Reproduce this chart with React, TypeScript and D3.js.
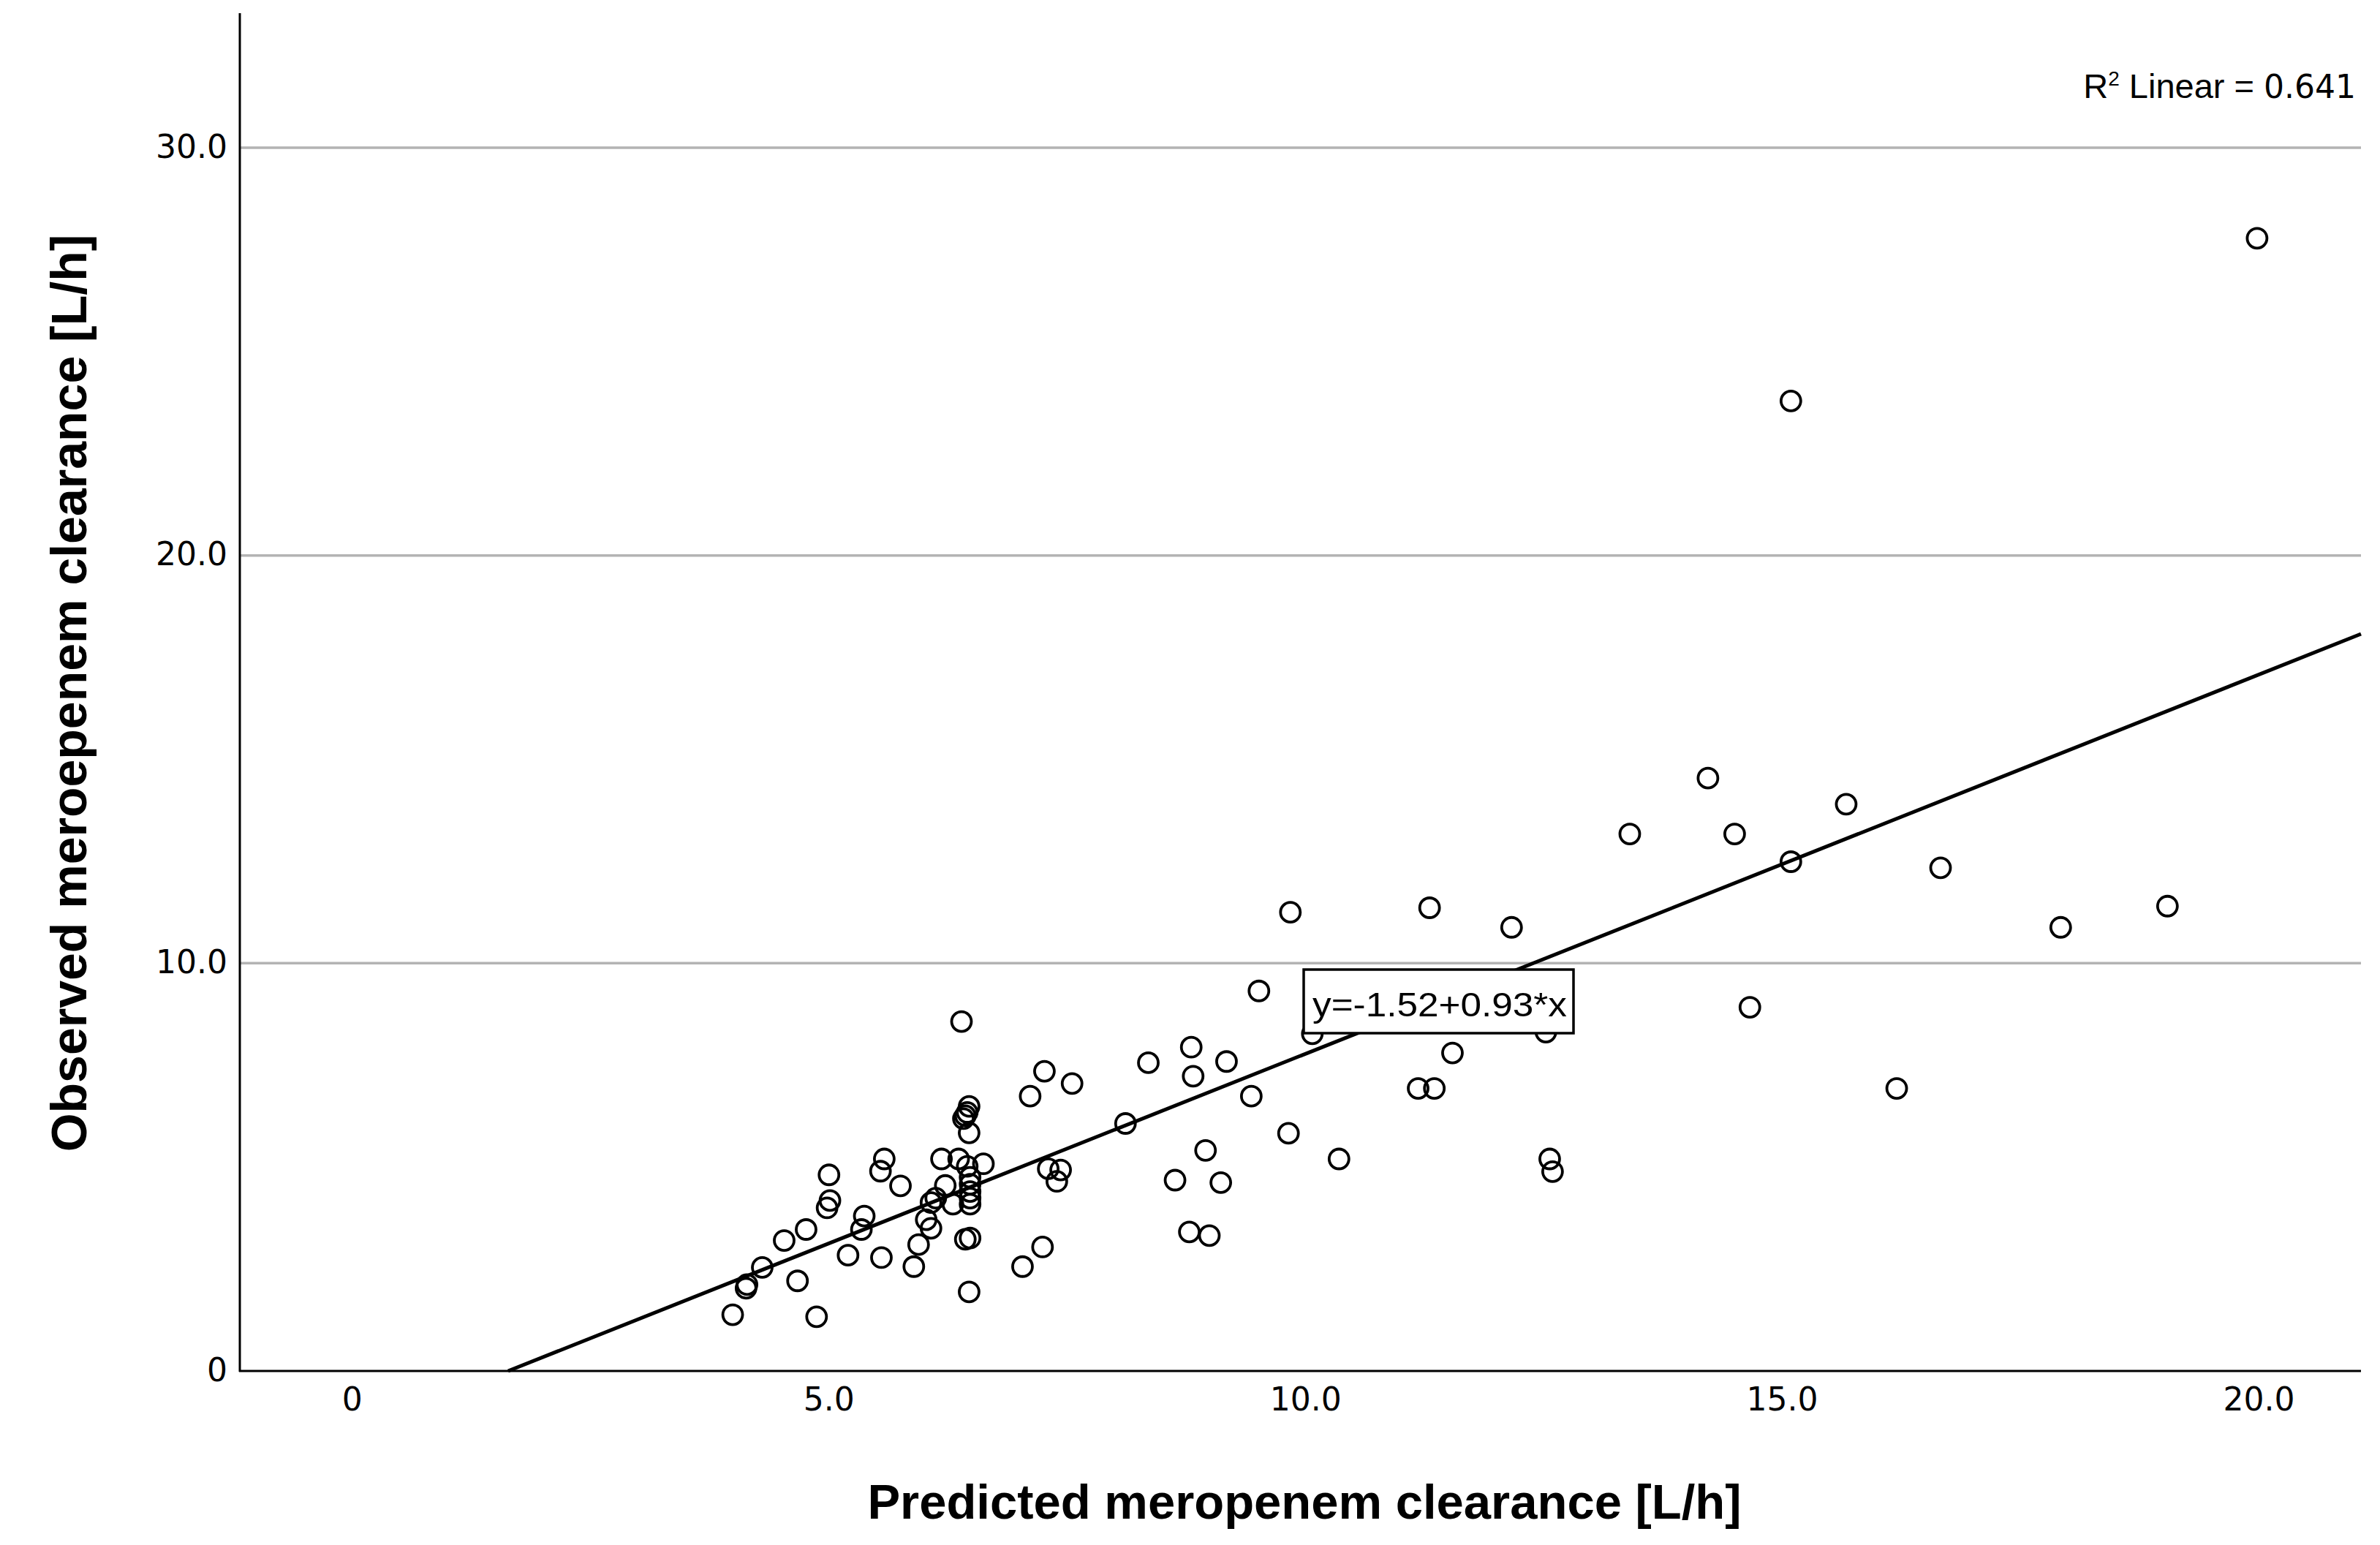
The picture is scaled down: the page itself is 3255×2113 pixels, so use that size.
import React from "react";
import * as d3 from "d3";

// ---- data ----
const predicted = [
  3.99, 4.13, 4.14, 4.30, 4.53, 4.67, 4.76, 4.87, 5.00, 5.01, 4.98, 5.20, 5.34, 5.37, 5.55, 5.58, 5.54, 5.75,
  5.89, 5.94, 6.02, 6.07, 6.07, 6.12, 6.18, 6.22, 6.30, 6.36, 6.45, 6.62, 6.48, 6.48, 6.48, 6.48, 6.48, 6.43,
  6.48, 6.47, 6.39, 6.47, 6.45, 6.43, 6.41, 6.47, 7.03, 7.24, 7.11, 7.26, 7.55, 7.30, 7.43, 7.39, 8.11,
  8.35, 8.80, 8.82, 9.17, 9.43, 9.51, 10.07, 8.63, 9.11, 8.95, 9.82, 10.35, 8.78, 8.99, 9.84, 11.30, 12.16,
  11.54, 11.18, 11.35, 12.52, 12.56, 12.59,
  13.40, 14.22, 14.50, 15.67, 15.09, 14.66, 16.66, 16.20, 17.92, 19.04, 15.09, 19.98,
];
const observed = [
  1.38, 2.03, 2.12, 2.54, 3.20, 2.21, 3.47, 1.33, 4.81, 4.18, 4.00, 2.84, 3.47, 3.80, 2.78, 5.20, 4.90, 4.54,
  2.56, 3.10, 3.71, 3.50, 4.13, 4.24, 5.20, 4.55, 4.09, 5.20, 5.02, 5.08, 4.75, 4.58, 4.40, 4.24, 4.09, 3.23,
  3.26, 1.94, 8.57, 6.49, 6.34, 6.26, 6.19, 5.84, 2.56, 3.04, 6.74, 7.35, 7.05, 4.96, 4.93, 4.65, 6.07,
  7.56, 7.94, 7.23, 7.59, 6.74, 9.32, 8.27, 4.68, 4.62, 5.41, 5.83, 5.20, 3.41, 3.32, 11.25, 11.36, 10.88,
  7.80, 6.93, 6.93, 8.31, 5.20, 4.89,
  13.17, 14.54, 13.17, 13.90, 12.49, 8.92, 12.34, 6.93, 10.88, 11.40, 23.79, 27.78,
];
const xTicks = [0, 5, 10, 15, 20];
const xTickLabels = ["0", "5.0", "10.0", "15.0", "20.0"];
const yTicks = [0, 10, 20, 30];
const yTickLabels = ["0", "10.0", "20.0", "30.0"];
const fitIntercept = -1.52;
const fitSlope = 0.93;
const rSquared = 0.641;

const W = 3255;
const H = 2113;
const X0 = 328, X1 = 3229, Y0 = 1875, Y1 = 18;

export default function App() {
  const x = d3.scaleLinear().domain([-1.18, 21.07]).range([X0, X1]);
  const y = d3.scaleLinear().domain([0, 33.3]).range([Y0, Y1]);

  const xStart = -fitIntercept / fitSlope;
  const xEnd = x.domain()[1];
  const fitLine = d3.line<number>()
    .x((v) => x(v))
    .y((v) => y(fitIntercept + fitSlope * v))([xStart, xEnd]);

  const pts = predicted.map((p, i) => [p, observed[i]] as [number, number]);

  const eqText = `y=${fitIntercept.toFixed(2)}+${fitSlope.toFixed(2)}*x`;
  const box = { x: 1783, y: 1326, w: 369, h: 87 };

  const tickFont = "'DejaVu Sans', Verdana, sans-serif";
  const arial = "'Liberation Sans', Arial, sans-serif";

  return (
    <svg
      width={W}
      height={H}
      viewBox={`0 0 ${W} ${H}`}
      style={{ position: "absolute", left: 0, top: 0, display: "block", background: "#fff" }}
    >
      <rect x={0} y={0} width={W} height={H} fill="#fff" />
      {/* gridlines */}
      {yTicks.filter((t) => t > 0).map((t) => (
        <line key={t} x1={X0} x2={X1} y1={y(t)} y2={y(t)} stroke="#b3b3b3" strokeWidth={3.5} />
      ))}
      {/* axes */}
      <line x1={X0} x2={X0} y1={Y1} y2={Y0 + 1} stroke="#000" strokeWidth={3} />
      <line x1={X0 - 1} x2={X1} y1={Y0} y2={Y0} stroke="#000" strokeWidth={3.2} />

      {/* y tick labels */}
      {yTicks.map((t, i) => (
        <text key={t} x={311} y={y(t) - 2} textAnchor="end" dominantBaseline="central"
          fontFamily={tickFont} fontSize={44} fill="#000">{yTickLabels[i]}</text>
      ))}
      {/* x tick labels */}
      {xTicks.map((t, i) => (
        <text key={t} x={x(t)} y={1929} textAnchor="middle"
          fontFamily={tickFont} fontSize={44} fill="#000">{xTickLabels[i]}</text>
      ))}

      {/* points */}
      {pts.map(([px, py], i) => (
        <circle key={i} cx={x(px)} cy={y(py)} r={13.5} fill="none" stroke="#000" strokeWidth={3.8} />
      ))}

      {/* fit line */}
      <path d={fitLine || ""} fill="none" stroke="#000" strokeWidth={5} />

      {/* equation label */}
      <rect x={box.x} y={box.y} width={box.w} height={box.h} fill="#fff" stroke="#000" strokeWidth={3.5} />
      <text x={box.x + 12} y={box.y + 64} fontFamily={arial} fontSize={46} fill="#000"
        textLength={348} lengthAdjust="spacingAndGlyphs">{eqText}</text>

      {/* R2 label */}
      <text x={3222} y={134} textAnchor="end" fill="#000">
        <tspan fontFamily={arial} fontSize={47}>R</tspan>
        <tspan fontFamily={arial} fontSize={28} dy={-17}>2</tspan>
        <tspan fontFamily={arial} fontSize={47} dy={17}>{"  Linear = "}</tspan>
        <tspan fontFamily={tickFont} fontSize={44}>{rSquared.toFixed(3)}</tspan>
      </text>

      {/* axis titles */}
      <text x={1784} y={2077} textAnchor="middle" fontFamily={arial} fontWeight="bold" fontSize={67} fill="#000">
        Predicted meropenem clearance [L/h]
      </text>
      <text transform={`translate(118, 948) rotate(-90)`} textAnchor="middle" fontFamily={arial}
        fontWeight="bold" fontSize={68} fill="#000">
        Observed meroepenem clearance [L/h]
      </text>
    </svg>
  );
}
